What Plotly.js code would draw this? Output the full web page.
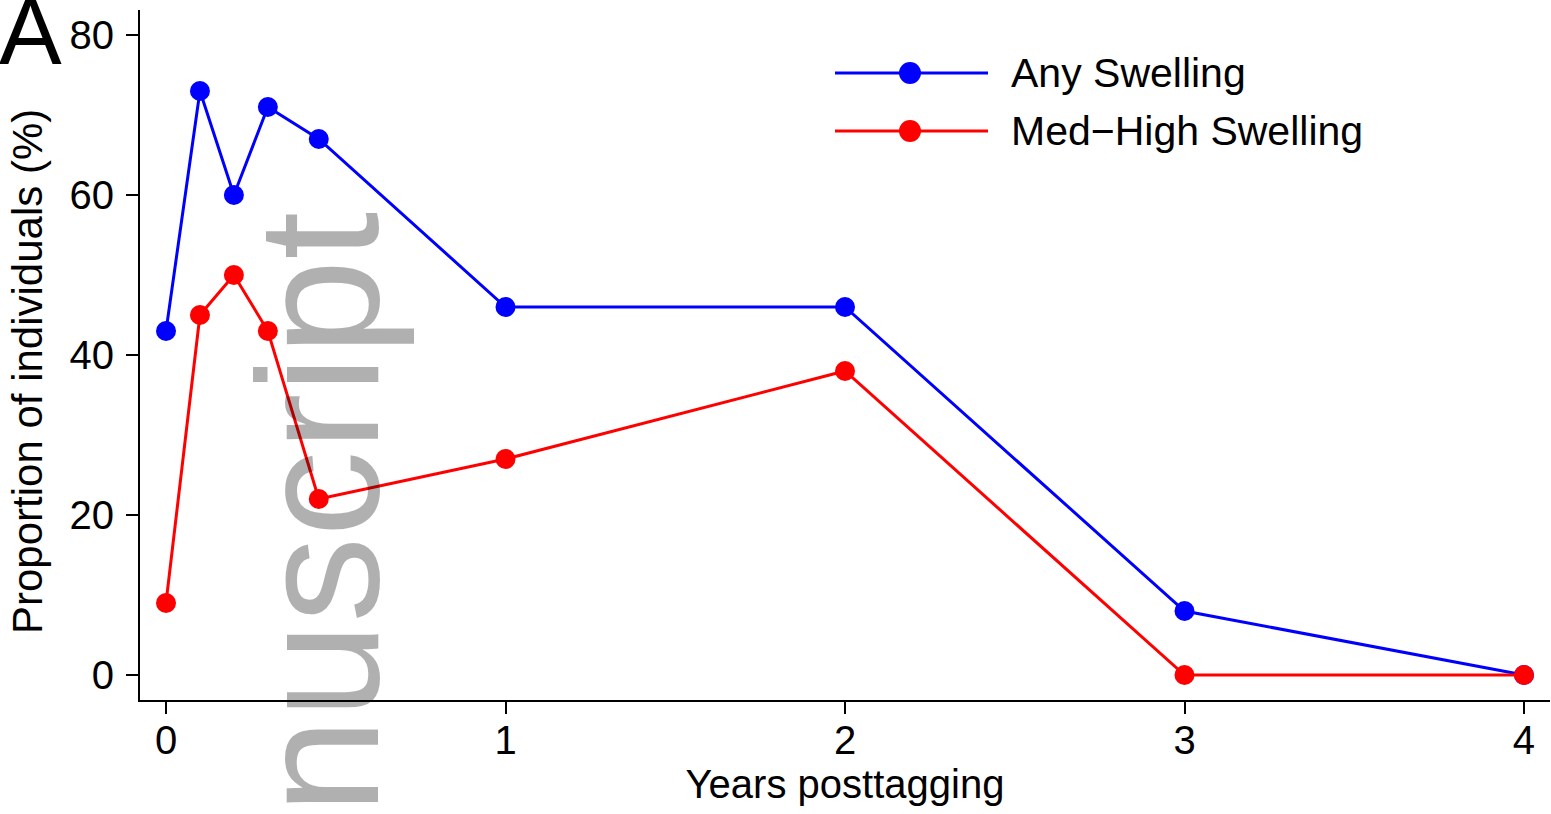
<!DOCTYPE html>
<html>
<head>
<meta charset="utf-8">
<script src="https://cdn.plot.ly/plotly-3.0.1.min.js"></script>
<style>html,body{margin:0;padding:0;background:#fff;}#chart{width:1551px;height:814px;}</style>
</head>
<body>
<div id="chart"></div>
<script>
// Data
var years = [0, 0.1, 0.2, 0.3, 0.45, 1, 2, 3, 4];
var anySwelling = [43, 73, 60, 71, 67, 46, 46, 8, 0];
var medHighSwelling = [9, 45, 50, 43, 22, 27, 38, 0, 0];
var seriesNames = ["Any Swelling", "Med\u2212High Swelling"];
var seriesColors = ["#0000ff", "#ff0000"];
var xTicks = [0, 1, 2, 3, 4];
var yTicks = [0, 20, 40, 60, 80];

var W = 1551, H = 814;
var L = 140, R = 1, T = 10, B = 114;
var pw = W - L - R, ph = H - T - B;
function px(x) { return (x - L) / pw; }
function py(y) { return (H - B - y) / ph; }

var FONT = "Liberation Sans, Arial, Helvetica, sans-serif";

var traces = [
  {x: years, y: anySwelling, name: seriesNames[0], mode: "lines+markers",
   line: {color: seriesColors[0], width: 3}, marker: {color: seriesColors[0], size: 20}},
  {x: years, y: medHighSwelling, name: seriesNames[1], mode: "lines+markers",
   line: {color: seriesColors[1], width: 3}, marker: {color: seriesColors[1], size: 20}}
];

// Manual legend (long line samples as in the reference)
var legendRows = [73, 131];
var shapes = [];
var annotations = [];
for (var i = 0; i < 2; i++) {
  var yy = py(legendRows[i]);
  shapes.push({type: "line", xref: "paper", yref: "paper", x0: px(835), x1: px(988), y0: yy, y1: yy,
    line: {color: seriesColors[i], width: 3}});
  shapes.push({type: "circle", xref: "paper", yref: "paper", x0: px(899), x1: px(921),
    y0: py(legendRows[i] + 11), y1: py(legendRows[i] - 11),
    fillcolor: seriesColors[i], line: {color: seriesColors[i], width: 0}});
  annotations.push({xref: "paper", yref: "paper", x: px(1009), y: yy, xanchor: "left", yanchor: "middle",
    text: seriesNames[i], showarrow: false, font: {family: FONT, size: 41, color: "#000"}});
}

// Y axis title
annotations.push({xref: "paper", yref: "paper", x: px(28), y: py(372), xanchor: "center", yanchor: "middle",
  text: "Proportion of individuals (%)", textangle: -90, showarrow: false,
  font: {family: FONT, size: 42, color: "#000"}});
// Panel label
annotations.push({xref: "paper", yref: "paper", x: px(-3), y: py(32), xanchor: "left", yanchor: "middle",
  text: "A", showarrow: false, font: {family: FONT, size: 94, color: "#000"}});
// Watermark
annotations.push({xref: "paper", yref: "paper", x: px(318), y: py(633), xanchor: "center", yanchor: "middle",
  text: "Manuscript", textangle: -90, showarrow: false,
  font: {family: FONT, size: 172, color: "rgba(0,0,0,0.31)"}});

var layout = {
  width: W, height: H,
  margin: {l: L, r: R, t: T, b: B, pad: 0},
  paper_bgcolor: "#fff", plot_bgcolor: "#fff",
  showlegend: false,
  font: {family: FONT, color: "#000"},
  xaxis: {
    range: [-0.0766, 4.0766], tickvals: xTicks, ticktext: xTicks.map(String),
    showgrid: false, zeroline: false, showline: true, linecolor: "#000", linewidth: 2,
    ticks: "outside", ticklen: 12, tickwidth: 2, tickcolor: "#000",
    tickfont: {family: FONT, size: 40, color: "#000"}, ticklabelstandoff: -8,
    title: {text: "Years posttagging", font: {family: FONT, size: 40, color: "#000"}, standoff: 0}
  },
  yaxis: {
    range: [-3.125, 83.125], tickvals: yTicks, ticktext: yTicks.map(String),
    showgrid: false, zeroline: false, showline: true, linecolor: "#000", linewidth: 2,
    ticks: "outside", ticklen: 12, tickwidth: 2, tickcolor: "#000",
    tickfont: {family: FONT, size: 40, color: "#000"}, ticklabelstandoff: 4
  },
  shapes: shapes,
  annotations: annotations
};

Plotly.newPlot("chart", traces, layout, {displayModeBar: false, staticPlot: true});
</script>
</body>
</html>
